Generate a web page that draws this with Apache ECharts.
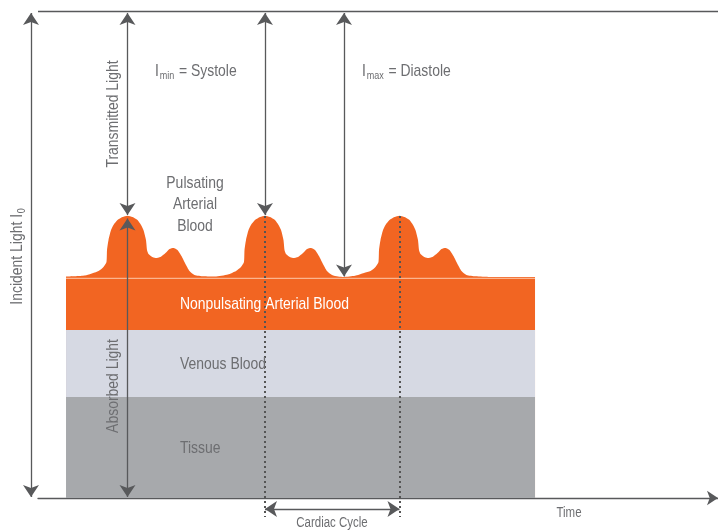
<!DOCTYPE html>
<html><head><meta charset="utf-8">
<script src="https://cdn.jsdelivr.net/npm/echarts@6/dist/echarts.min.js"></script>
<style>html,body{margin:0;padding:0;background:#fff}#c{width:718px;height:532px}</style>
</head><body><div id="c"></div>
<script>
// x: time (arbitrary units 0..100), y: light intensity (0..100)
const layerRange = [4.12, 73.09];
const tissueTop = 20.74;
const venousTop = 34.5;
const nonpulsTop = 44.97;
const separatorY = 45.1;
const pulseWave = [
  [4.12,45.48],[6.91,45.69],[8.90,46.61],[9.63,47.43],[10.07,48.46],[10.15,50.92],[10.37,52.98],[10.74,55.03],
  [11.10,56.06],[11.69,57.08],[12.43,57.70],[13.16,57.97],[13.90,57.70],[14.63,57.08],[15.15,56.06],[15.51,55.03],
  [15.88,52.98],[16.03,50.92],[16.25,50.10],[16.69,49.59],[17.28,49.28],[18.01,49.49],[18.75,50.31],[19.34,51.13],
  [19.93,51.33],[20.51,50.92],[21.10,49.69],[21.69,48.05],[22.28,46.61],[23.01,45.79],[24.34,45.52],[26.03,45.48],
  [27.94,45.89],
  [29.12,46.61],[29.85,47.43],[30.29,48.46],[30.37,50.92],[30.59,52.98],[30.96,55.03],
  [31.32,56.06],[31.91,57.08],[32.65,57.70],[33.38,57.97],[34.12,57.70],[34.85,57.08],[35.37,56.06],[35.74,55.03],
  [36.10,52.98],[36.25,50.92],[36.47,50.10],[36.91,49.59],[37.50,49.28],[38.24,49.49],[38.97,50.31],[39.56,51.13],
  [40.15,51.33],[40.74,50.92],[41.32,49.69],[41.91,48.05],[42.50,46.61],[43.24,45.79],[44.12,45.48],[45.0,45.38],
  [46.62,45.63],[47.94,46.2],
  [48.90,46.61],[49.63,47.43],[50.07,48.46],[50.15,50.92],[50.37,52.98],[50.74,55.03],
  [51.10,56.06],[51.69,57.08],[52.43,57.70],[53.16,57.97],[53.90,57.70],[54.63,57.08],[55.15,56.06],[55.51,55.03],
  [55.88,52.98],[56.03,50.92],[56.25,50.10],[56.69,49.59],[57.28,49.28],[58.01,49.49],[58.75,50.31],[59.34,51.13],
  [59.93,51.33],[60.51,50.92],[61.10,49.69],[61.69,48.05],[62.28,46.61],[63.01,45.79],[64.34,45.52],[66.47,45.38],
  [73.09,45.38]
];
// double-headed arrows: [x1,y1,x2,y2]
const arrows = [
  [-1.03, 99.6, -1.03, 0.2],     // incident light
  [13.16, 99.6, 13.16, 58.1],    // transmitted light
  [13.16, 57.4, 13.16, 0.2],     // absorbed light
  [33.38, 99.6, 33.38, 58.1],    // I min
  [45.0, 99.6, 45.0, 45.5],      // I max
  [33.38, -2.26, 53.16, -2.26]   // cardiac cycle
];
const dottedLines = [
  [33.38, 57.9, 33.38, -3.9],
  [53.16, 57.9, 53.16, -3.9]
];
const topLine = [[0, 100], [100, 100]];

const FONT = "'Liberation Sans',Arial,sans-serif";
const GRAY = '#6d6e71';
const LINE = '#58595b';
const ORANGE = '#f26522';
const NARROW = 0.82;

function seg(a){ return {coords: [[a[0],a[1]],[a[2],a[3]]]}; }

function txt(x, y, text, opt){
  opt = opt || {};
  return {
    type: 'text', x: x, y: y, rotation: opt.rot || 0, scaleX: NARROW, z: 100,
    style: {
      text: text, fill: opt.color || GRAY, font: (opt.size || 17) + 'px ' + FONT,
      textAlign: opt.align || 'left', textVerticalAlign: 'middle',
      rich: opt.rich
    }
  };
}
const subRich = {
  a: {fontSize: 17, fontFamily: FONT, fill: GRAY},
  s: {fontSize: 11, fontFamily: FONT, fill: GRAY, padding: [9, 1, 0, 1]}
};

const chart = echarts.init(document.getElementById('c'), null, {renderer: 'canvas'});
chart.setOption({
  animation: false,
  backgroundColor: '#ffffff',
  grid: {left: 38, right: 0, top: 11, bottom: 34},
  xAxis: {
    type: 'value', min: 0, max: 100,
    axisLine: {show: true, symbol: ['none', 'arrow'], symbolSize: [11, 11], lineStyle: {color: LINE, width: 1.3}},
    axisTick: {show: false}, axisLabel: {show: false}, splitLine: {show: false}
  },
  yAxis: {type: 'value', min: 0, max: 100, show: false},
  series: [
    {type: 'line', data: pulseWave, smooth: 0.2, symbol: 'none', z: 1,
     lineStyle: {width: 0}, areaStyle: {color: ORANGE, opacity: 1}},
    {type: 'line', data: [[layerRange[0], nonpulsTop], [layerRange[1], nonpulsTop]], symbol: 'none', z: 2,
     lineStyle: {width: 0}, areaStyle: {color: ORANGE, opacity: 1}},
    {type: 'line', data: [[layerRange[0], separatorY], [layerRange[1], separatorY]], symbol: 'none', z: 3,
     lineStyle: {width: 1.4, color: '#fbb48e'}},
    {type: 'line', data: [[layerRange[0], venousTop], [layerRange[1], venousTop]], symbol: 'none', z: 4,
     lineStyle: {width: 0}, areaStyle: {color: '#d6d9e3', opacity: 1}},
    {type: 'line', data: [[layerRange[0], tissueTop], [layerRange[1], tissueTop]], symbol: 'none', z: 5,
     lineStyle: {width: 0}, areaStyle: {color: '#a7a9ac', opacity: 1}},
    {type: 'lines', coordinateSystem: 'cartesian2d', clip: false, z: 10,
     symbol: ['none', 'none'], lineStyle: {color: LINE, width: 1.3, opacity: 1},
     data: [{coords: topLine}]},
    {type: 'lines', coordinateSystem: 'cartesian2d', clip: false, z: 11,
     symbol: ['none', 'none'], lineStyle: {color: '#555555', width: 2, type: [2, 3], opacity: 1},
     data: dottedLines.map(seg)},
    {type: 'lines', coordinateSystem: 'cartesian2d', clip: false, z: 12,
     symbol: ['arrow', 'arrow'], symbolSize: 12, lineStyle: {color: LINE, width: 1.3, opacity: 1},
     data: arrows.map(seg)}
  ],
  graphic: [
    txt(155, 71, '{a|I}{s|min}{a| = Systole}', {rich: subRich}),
    txt(362, 71, '{a|I}{s|max}{a| = Diastole}', {rich: subRich}),
    txt(195, 183, 'Pulsating', {align: 'center'}),
    txt(195, 204, 'Arterial', {align: 'center'}),
    txt(195, 226, 'Blood', {align: 'center'}),
    txt(180, 304, 'Nonpulsating Arterial Blood', {color: '#ffffff'}),
    txt(180, 364, 'Venous Blood'),
    txt(180, 448, 'Tissue'),
    txt(113, 114, 'Transmitted Light', {rot: Math.PI / 2, align: 'center', size: 17}),
    txt(113, 386, 'Absorbed Light', {rot: Math.PI / 2, align: 'center', size: 17}),
    txt(17, 256, '{a|Incident Light I}{s|0}', {rot: Math.PI / 2, align: 'center', rich: subRich}),
    txt(332, 523, 'Cardiac Cycle', {align: 'center', size: 14}),
    txt(569, 513, 'Time', {align: 'center', size: 14})
  ]
});
</script></body></html>
